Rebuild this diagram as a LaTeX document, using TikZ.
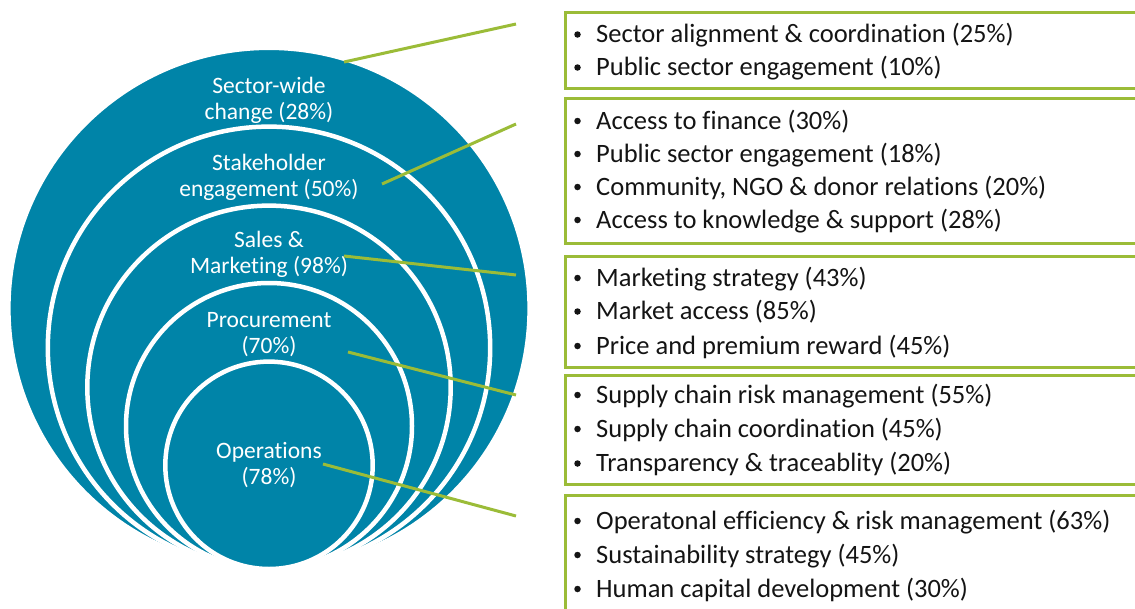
\documentclass[tikz,border=0pt]{standalone}
\usepackage{fontspec}
\setmainfont{Carlito}[Ligatures=NoCommon]
\definecolor{ringblue}{RGB}{0,132,168}
\definecolor{leafgreen}{RGB}{155,188,56}
\tikzset{
  ring/.style={circle, fill=ringblue, draw=white, line width=4.5pt, inner sep=0pt, outer sep=0pt},
  ringlabel/.style={text=white, align=center, font=\fontsize{23.5}{26}\selectfont, inner sep=0pt},
  listbox/.style={draw=leafgreen, line width=3pt, rectangle, inner sep=0pt, anchor=north west, minimum width=600pt},
  item/.style={anchor=base west, inner sep=0pt, font=\fontsize{26.5}{30}\selectfont, text=black!92},
  bul/.style={circle, fill=black!92, inner sep=0pt, minimum size=6.5pt},
  link/.style={draw=leafgreen, line width=3pt}
}
\begin{document}
\begin{tikzpicture}[x=1pt, y=-1pt]
\useasboundingbox (0,0) rectangle (1135,608);
\clip (0,0) rectangle (1135,608);
% nested circles, tangent at bottom
\node[ring, minimum size=521.2pt] (c1) at (269,308.4) {};
\node[ring, minimum size=442.4pt] (c2) at (269,347.8) {};
\node[ring, minimum size=363.4pt] (c3) at (269,387.3) {};
\node[ring, minimum size=286pt]   (c4) at (269,426) {};
\node[ring, minimum size=207.4pt] (c5) at (269,465.3) {};
% labels
\node[ringlabel] (l1) at (269,100) {Sector-wide\\change (28\%)};
\node[ringlabel] (l2) at (269,177) {Stakeholder\\engagement (50\%)};
\node[ringlabel] (l3) at (269,254.5) {Sales \&\\Marketing (98\%)};
\node[ringlabel] (l4) at (269,334.5) {Procurement\\(70\%)};
\node[ringlabel] (l5) at (269,465.5) {Operations\\(78\%)};
% boxes
\node[listbox, minimum height=76pt]  (b1) at (564,11) {};
\node[listbox, minimum height=145pt] (b2) at (564,97) {};
\node[listbox, minimum height=111pt] (b3) at (564,255) {};
\node[listbox, minimum height=109pt] (b4) at (564,374) {};
\node[listbox, minimum height=140pt] (b5) at (564,494) {};
% list items
\foreach \y/\t [count=\i] in {
  42.5/Sector alignment \& coordination (25\%),
  75.5/Public sector engagement (10\%),
  129/Access to finance (30\%),
  162/Public sector engagement (18\%),
  195/{Community, NGO \& donor relations (20\%)},
  228/Access to knowledge \& support (28\%),
  286/Marketing strategy (43\%),
  319.5/Market access (85\%),
  354/Price and premium reward (45\%),
  403/Supply chain risk management (55\%),
  437/Supply chain coordination (45\%),
  471.5/Transparency \& traceablity (20\%),
  529/Operatonal efficiency \& risk management (63\%),
  563/Sustainability strategy (45\%),
  597/Human capital development (30\%)}{
  \node[bul] (d\i) at (577.5,\y-8) {};
  \node[item] (t\i) at (596,\y) {\t};
}
% connectors
\coordinate (s1) at (344,62);  \coordinate (e1) at (516,24);
\coordinate (s2) at (382,184); \coordinate (e2) at (516,124);
\coordinate (s3) at (344,256); \coordinate (e3) at (516,275);
\coordinate (s4) at (348,352); \coordinate (e4) at (516,395);
\coordinate (s5) at (323,464); \coordinate (e5) at (516,516);
\foreach \k in {1,...,5} { \draw[link] (s\k) -- (e\k); }
\end{tikzpicture}
\end{document}
